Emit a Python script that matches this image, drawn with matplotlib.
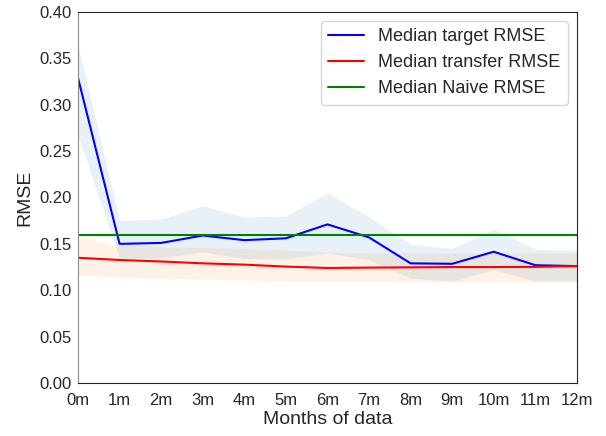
import matplotlib
matplotlib.use("Agg")
import matplotlib.pyplot as plt
import seaborn as sns
import numpy as np

# values
months = list(range(13))
month_labels = ["%dm" % m for m in months]

target_med = [0.329, 0.150, 0.151, 0.159, 0.154, 0.156, 0.171, 0.157, 0.129, 0.1285, 0.1415, 0.127, 0.126]
target_lo = [0.267, 0.134, 0.135, 0.1415, 0.134, 0.134, 0.140, 0.133, 0.113, 0.110, 0.122, 0.110, 0.110]
target_hi = [0.364, 0.175, 0.177, 0.191, 0.179, 0.180, 0.205, 0.179, 0.1495, 0.145, 0.166, 0.144, 0.143]

transfer_med = [0.135, 0.1326, 0.131, 0.129, 0.1276, 0.1255, 0.124, 0.1244, 0.1247, 0.125, 0.125, 0.1252, 0.126]
transfer_lo = [0.1164, 0.114, 0.113, 0.112, 0.111, 0.110, 0.110, 0.110, 0.109, 0.109, 0.109, 0.109, 0.109]
transfer_hi = [0.158, 0.148, 0.147, 0.146, 0.145, 0.143, 0.141, 0.140, 0.140, 0.140, 0.140, 0.140, 0.140]

naive_rmse = 0.160

sns.set_style("white")
plt.rcParams['font.family'] = ['Liberation Sans', 'DejaVu Sans']

fig, ax = plt.subplots(figsize=(6.06, 4.36), dpi=100)
fig.subplots_adjust(left=0.1287, right=0.952, top=0.9725, bottom=0.1216)

ax.fill_between(months, transfer_lo, transfer_hi, color='tab:orange', alpha=0.1, lw=0)
ax.fill_between(months, target_lo, target_hi, color='tab:blue', alpha=0.1, lw=0)

ax.plot(months, target_med, color='blue', lw=1.5, label='Median target RMSE')
ax.plot(months, transfer_med, color='red', lw=1.5, label='Median transfer RMSE')
ax.axhline(naive_rmse, color='green', lw=1.5, label='Median Naive RMSE')

ax.set_xlim(0, 12)
ax.set_ylim(0, 0.40)
ax.set_xticks(months)
ax.set_xticklabels(month_labels)
ax.set_yticks(np.arange(0, 0.41, 0.05))
ax.tick_params(labelsize=12, colors='.15')
ax.tick_params(axis='y', pad=1)
ax.tick_params(axis='x', pad=4)
ax.spines['left'].set_color('0.55')
ax.set_xlabel('Months of data', fontsize=14, color='.15', labelpad=2)
ax.set_ylabel('RMSE', fontsize=14, color='.15', labelpad=4)

ax.legend(loc='upper right', fontsize=13, frameon=True)

fig.savefig('out.png', dpi=100)
